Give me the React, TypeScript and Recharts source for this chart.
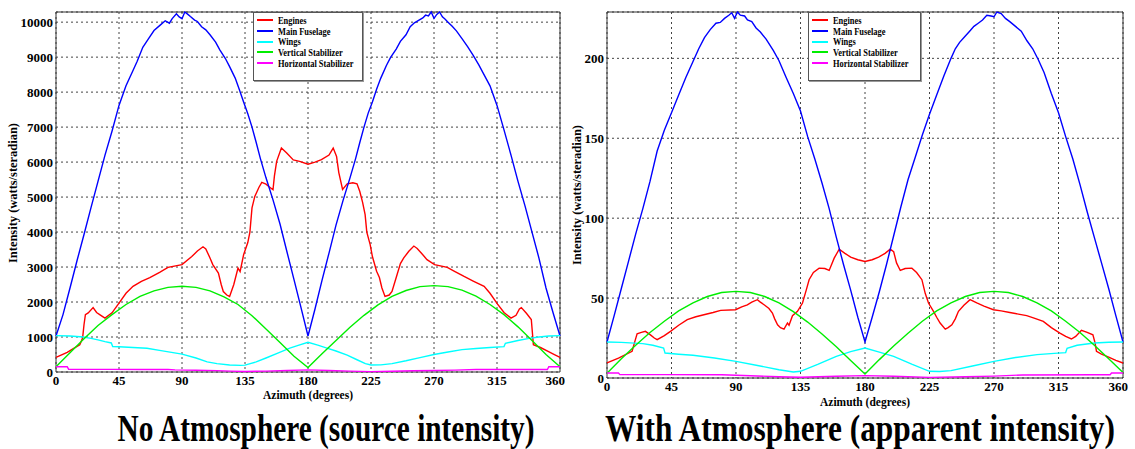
import { CartesianGrid, Legend, Line, LineChart, ReferenceArea, XAxis, YAxis } from "recharts";

// azimuth (degrees), intensity (watts/steradian)
type Pt = [number, number];

const seriesNames = ["Engines", "Main Fuselage", "Wings", "Vertical Stabilizer", "Horizontal Stabilizer"];
const seriesColors = ["#ff0000", "#0000ff", "#00ffff", "#00ee00", "#ff00ff"];

const azimuthTicks = [0, 45, 90, 135, 180, 225, 270, 315, 360];
const sourceTicks = [0, 1000, 2000, 3000, 4000, 5000, 6000, 7000, 8000, 9000, 10000];
const apparentTicks = [0, 50, 100, 150, 200];

// --- source intensity (no atmosphere) ---
const enginesSrc: Pt[] = [
  [0, 420], [8, 560], [17, 780], [19, 970], [20, 1350], [21, 1640], [23, 1690], [26.5, 1840], [29, 1700],
  [32, 1620], [35, 1540], [40, 1690], [45, 1970], [50, 2250], [55, 2450], [61, 2590], [67, 2700], [74, 2850],
  [80, 2990], [90, 3070], [97, 3300], [101, 3460], [105, 3580], [107, 3520], [110, 3260], [112, 3070],
  [116, 2830], [118, 2500], [119.5, 2300], [122, 2200], [124, 2160], [127, 2500], [130, 2970], [131.5, 2870],
  [134, 3350], [137, 3700], [138.5, 4000], [140, 4690], [142, 5020], [145, 5280], [147, 5420], [150, 5370],
  [152, 5300], [155, 5210], [156, 5600], [157.6, 6020], [161, 6400], [164.8, 6260], [169.5, 6060], [174, 6020],
  [180, 5940], [185, 6000], [189.6, 6070], [195, 6200], [198, 6400], [200.4, 6160], [202, 5700], [204.7, 5220],
  [208, 5380], [212, 5410], [215, 5380], [217, 5160], [219, 4850], [220.8, 4500], [222, 4000], [224.4, 3640],
  [226, 3300], [229, 2880], [231, 2700], [232.8, 2400], [235, 2160], [238, 2200], [240, 2300], [243.6, 2780],
  [246, 3100], [248.4, 3260], [252, 3450], [255.6, 3600], [258, 3530], [262, 3350], [265, 3210], [270.4, 3070],
  [279.5, 2990], [285, 2870], [291.5, 2730], [298, 2600], [305.8, 2450], [310, 2250], [315.4, 1940], [320, 1700],
  [325, 1540], [328.6, 1620], [331, 1800], [332.4, 1840], [336, 1680], [339.5, 1500], [341, 780], [346, 700],
  [351.5, 590], [356, 500], [360, 420],
];
const fuselageSrc: Pt[] = [
  [0, 1030], [5, 1640], [10, 2400], [15, 3180], [20, 3930], [25, 4700], [30, 5450], [35, 6200], [40, 6880],
  [45, 7620], [50, 8180], [55, 8620], [58, 8880], [62, 9280], [66, 9520], [70, 9760], [74, 9900], [78, 10040],
  [81, 9970], [83, 10100], [86, 10240], [88, 10150], [90, 10100], [92, 10290], [94, 10230], [96, 10160],
  [99, 10060], [101, 10020], [104, 9870], [107, 9780], [110, 9640], [114, 9430], [117, 9210], [121, 8960],
  [124, 8730], [128, 8400], [131, 8070], [134, 7720], [137, 7380], [140, 7000], [143, 6560], [146, 6100],
  [150, 5550], [155, 4920], [160, 4230], [165, 3430], [170, 2640], [175, 1840], [180, 1030], [185, 1800],
  [190, 2620], [195, 3400], [200, 4200], [205, 4900], [210, 5550], [214, 6100], [217, 6560], [220, 7000],
  [223, 7400], [226, 7720], [229, 8080], [232, 8400], [236, 8760], [239, 8990], [243, 9230], [246, 9450],
  [250, 9640], [253, 9870], [256, 9980], [259, 10050], [262, 10120], [264, 10200], [266, 10180], [268, 10290],
  [270, 10110], [272, 10220], [274, 10290], [276, 10150], [278, 10080], [280, 10000], [283, 9880], [286, 9750],
  [290, 9530], [294, 9300], [298, 9050], [302, 8780], [306, 8480], [310, 8180], [315, 7620], [320, 6920],
  [325, 6200], [330, 5450], [335, 4750], [340, 4000], [345, 3250], [350, 2400], [355, 1700], [360, 1030],
];
const wingsSrc: Pt[] = [
  [0, 1040], [10, 1030], [19.5, 1000], [25, 960], [30, 920], [35, 870], [39.5, 830], [40.5, 730], [45, 720],
  [55, 700], [65, 680], [75, 610], [90, 510], [100, 400], [108, 290], [115, 240], [124, 200], [132, 190],
  [135, 195], [143, 290], [150, 400], [158, 530], [167, 680], [173, 760], [180, 850], [187, 770], [193, 690],
  [200, 600], [208, 480], [215, 350], [221, 240], [225, 200], [232, 205], [240, 240], [250, 320], [260, 410],
  [270, 500], [280, 570], [290, 640], [300, 670], [310, 700], [320, 725], [321, 820], [330, 900], [338, 960],
  [345, 1000], [352, 1030], [360, 1040],
];
const vStabSrc: Pt[] = [
  [0, 150], [10, 550], [20, 950], [30, 1330], [40, 1640], [50, 1930], [60, 2160], [70, 2320], [80, 2420],
  [90, 2450], [100, 2420], [110, 2320], [120, 2150], [130, 1930], [140, 1610], [150, 1230], [160, 840],
  [170, 450], [180, 130], [190, 520], [200, 900], [210, 1280], [220, 1620], [230, 1920], [240, 2160],
  [250, 2330], [260, 2440], [270, 2470], [280, 2440], [290, 2340], [300, 2170], [310, 1930], [320, 1640],
  [330, 1290], [340, 900], [350, 500], [360, 150],
];
const hStabSrc: Pt[] = [
  [0, 150], [8, 150], [9, 80], [20, 75], [40, 75], [60, 72], [80, 70], [85, 60], [100, 50], [115, 40],
  [125, 25], [135, 15], [150, 25], [165, 45], [180, 60], [195, 45], [210, 25], [225, 10], [240, 20], [255, 35],
  [270, 45], [285, 55], [300, 70], [320, 70], [340, 72], [351, 72], [352, 150], [360, 150],
];

// --- apparent intensity (with atmosphere) ---
const enginesApp: Pt[] = [
  [0, 9.4], [8, 12.5], [17.5, 16.7], [19.8, 24], [21, 27.7], [24, 28.5], [26.8, 29.2], [30.3, 27], [33, 25],
  [35, 24], [40, 26.5], [44.3, 29.2], [50, 33], [56, 36.5], [62, 38.3], [67.6, 39.6], [74, 41], [79.3, 42.3],
  [89.7, 42.7], [94, 44.5], [97.9, 45.8], [101, 47.5], [104.9, 49], [107, 47.5], [109.6, 45.8], [113, 43.5],
  [115.4, 40.6], [117, 37], [119, 33.3], [121, 31.5], [123.5, 30.6], [125.9, 34.4], [127, 33], [129.4, 39],
  [132.9, 41.7], [136.4, 46.9], [139, 55], [141, 61.5], [144, 66], [148, 68.75], [152, 68.5], [155, 67.3],
  [158.5, 75], [162, 80.6], [166, 78], [170, 75.6], [175, 74], [180, 72.9], [185, 74], [189.5, 75.6], [194, 78],
  [197.6, 80.6], [200, 79], [202, 72], [204.6, 67.3], [208, 68.5], [212.7, 68.75], [216, 66], [219.7, 61.5],
  [222, 53], [224.3, 46.9], [227.8, 41.7], [230, 38], [232.4, 34.4], [236, 30.6], [238, 31.5], [240.6, 33.3],
  [243, 37], [245.2, 41.7], [249, 45.5], [253.3, 49], [258, 47], [263, 45], [269.6, 42.7], [275, 42], [281, 41],
  [287, 40], [292.8, 39], [298, 37.5], [304.4, 35.4], [310, 31.5], [316, 28.1], [320, 26], [324, 24.4],
  [327, 26], [331, 29.8], [335, 28.5], [339, 27], [340.5, 22], [341.5, 16.7], [345, 15], [350, 13], [355, 11],
  [360, 9.4],
];
const fuselageApp: Pt[] = [
  [0, 22.5], [5, 39], [10, 56], [15, 73], [20, 90], [25, 106], [30, 123], [35, 142], [40, 155], [45, 166],
  [50, 177], [55, 188], [60, 198], [64, 206], [68, 213], [72, 218], [76, 222], [79, 222.5], [82, 225], [85, 227],
  [87, 228.5], [89, 225], [91, 229], [93, 227], [96, 226.5], [98, 224], [101, 223], [104, 219], [107, 216.5],
  [111, 212], [116, 205], [120, 198.5], [125, 188], [130, 178], [135, 167], [140, 151], [145, 137], [150, 122],
  [155, 106], [160, 88], [165, 71], [170, 55], [175, 38], [180, 22.5], [185, 38], [190, 54], [195, 71],
  [200, 89], [205, 107], [210, 124], [215, 138], [220, 152], [225, 165], [230, 177], [235, 189], [240, 200],
  [243, 206], [246, 210], [250, 214], [253, 217], [256, 220], [259, 222], [262, 224], [265, 227], [268, 226.5],
  [270, 226], [272, 229], [275, 228], [278, 225], [281, 223], [285, 220], [289, 217], [293, 211], [297, 206],
  [301, 199], [305, 191], [310, 178], [315, 166], [320, 151], [325, 137], [330, 121], [335, 104], [340, 88],
  [345, 72], [350, 56], [355, 39], [360, 22.5],
];
const wingsApp: Pt[] = [
  [0, 22.5], [10, 22.3], [25, 21.5], [32, 20.5], [39.5, 18.75], [40.5, 15.6], [50, 14.9], [60, 14.2],
  [75, 12.5], [90, 10.4], [105, 7.8], [120, 5.2], [130, 3.75], [135, 4.2], [147, 8.5], [160, 13.5], [170, 16.5],
  [180, 18.75], [190, 16.2], [200, 13.5], [213, 8.5], [225, 4.2], [232, 4.1], [240, 4.6], [255, 7.5],
  [270, 10.4], [285, 12.8], [300, 14.6], [312, 15.4], [320, 15.9], [321, 18.6], [328, 20.5], [340, 21.9],
  [350, 22.4], [360, 22.5],
];
const vStabApp: Pt[] = [
  [0, 3], [10, 12], [20, 20.5], [30, 28.5], [40, 35.5], [50, 42], [60, 47], [70, 51], [80, 53.5], [90, 54.2],
  [100, 53.5], [110, 51], [120, 47], [130, 41.5], [140, 35], [150, 27.5], [160, 19.5], [170, 11], [180, 2.5],
  [190, 11.5], [200, 20], [210, 28], [220, 35.5], [230, 42], [240, 47], [250, 51], [260, 53.5], [270, 54.2],
  [280, 53.5], [290, 51], [300, 47], [310, 42], [320, 35.5], [330, 28.5], [340, 20.5], [350, 12], [360, 3.5],
];
const hStabApp: Pt[] = [
  [0, 3.1], [8, 3.1], [9, 2.1], [40, 2.1], [80, 2], [100, 1.4], [120, 0.8], [135, 0.5], [160, 1.1], [180, 1.5],
  [200, 1.1], [225, 0.4], [250, 0.8], [270, 1.2], [290, 1.9], [340, 2], [351, 2], [352, 3.1], [360, 3.1],
];

const FONT = "'Liberation Serif', 'Times New Roman', serif";
const tickStyle = { fontSize: 13, fontWeight: 700, fill: "#000", fontFamily: FONT };

const toRows = (pts: Pt[]) => pts.map(([az, v]) => ({ az, v }));

function BoxLegend({ payload }: any) {
  // keep plotting order, not alphabetical
  const items = [...(payload || [])].sort(
    (a: any, b: any) => seriesNames.indexOf(a.value) - seriesNames.indexOf(b.value)
  );
  return (
    <div
      style={{
        border: "1px solid #555",
        boxShadow: "1px 1px 0 #999",
        background: "#fff",
        padding: "2px 3px 12px 3px",
        fontFamily: FONT,
        fontWeight: 700,
        fontSize: 10.5,
        color: "#000",
        boxSizing: "border-box",
      }}
    >
      {items.map((p: any) => {
        const color = seriesColors[seriesNames.indexOf(p.value)] ?? p.color;
        return (
          <div key={p.value} style={{ display: "flex", alignItems: "center", height: 10.7, whiteSpace: "nowrap" }}>
            <span style={{ width: 16, height: 2, background: color, marginRight: 5, flex: "none" }} />
            <span style={{ display: "inline-block", transform: "scaleX(0.8)", transformOrigin: "left center" }}>
              {p.value}
            </span>
          </div>
        );
      })}
    </div>
  );
}

type PanelProps = {
  series: Pt[][];
  yTicks: number[];
  yMax: number;
  width: number;
  height: number;
  left: number;
  marginLeft: number;
  yAxisWidth: number;
  legendLeft: number;
  legendWidth: number;
};

function Panel({ series, yTicks, yMax, width, height, left, marginLeft, yAxisWidth, legendLeft, legendWidth }: PanelProps) {
  return (
    <div style={{ position: "absolute", left, top: 0 }}>
      <LineChart width={width} height={height} margin={{ top: 12, right: 5, bottom: 8, left: marginLeft }}>
        <CartesianGrid stroke="#444" strokeDasharray="2 3" />
        <XAxis
          type="number"
          dataKey="az"
          domain={[0, 360]}
          ticks={azimuthTicks}
          height={20}
          tick={tickStyle}
          tickSize={0}
          tickMargin={4}
          axisLine={false}
          tickLine={false}
        />
        <YAxis
          type="number"
          domain={[0, yMax]}
          ticks={yTicks}
          width={yAxisWidth}
          tick={tickStyle}
          tickSize={0}
          tickMargin={3}
          axisLine={false}
          tickLine={false}
        />
        <ReferenceArea x1={0} x2={360} y1={0} y2={yMax} fill="none" stroke="#333" strokeWidth={1} />
        <Legend
          layout="vertical"
          align="center"
          verticalAlign="middle"
          wrapperStyle={{ left: legendLeft, top: 12, width: legendWidth }}
          content={(props: any) => <BoxLegend payload={props.payload} />}
        />
        {series.map((pts, i) => (
          <Line
            key={seriesNames[i]}
            data={toRows(pts)}
            dataKey="v"
            name={seriesNames[i]}
            type="linear"
            stroke={seriesColors[i]}
            strokeWidth={1.4}
            dot={false}
            activeDot={false}
            isAnimationActive={false}
          />
        ))}
      </LineChart>
    </div>
  );
}

// condensed bold serif text, squeezed horizontally to a fixed width
function Squeezed({ x, y, size, width, children }: { x: number; y: number; size: number; width: number; children: string }) {
  const sx = 0.8;
  return (
    <text
      transform={`translate(${x},${y}) scale(${sx},1)`}
      fontSize={size}
      textAnchor="middle"
      textLength={width / sx}
      lengthAdjust="spacingAndGlyphs"
    >
      {children}
    </text>
  );
}

export default function App() {
  return (
    <div style={{ position: "absolute", left: 0, top: 0, width: 1135, height: 449, background: "#fff", overflow: "hidden" }}>
      <Panel
        series={[enginesSrc, fuselageSrc, wingsSrc, vStabSrc, hStabSrc]}
        yTicks={sourceTicks}
        yMax={10290}
        width={565}
        height={400}
        left={0}
        marginLeft={6}
        yAxisWidth={50}
        legendLeft={253}
        legendWidth={110}
      />
      <Panel
        series={[enginesApp, fuselageApp, wingsApp, vStabApp, hStabApp]}
        yTicks={apparentTicks}
        yMax={229}
        width={568}
        height={406}
        left={560}
        marginLeft={2}
        yAxisWidth={45}
        legendLeft={248}
        legendWidth={113}
      />
      <svg width={1135} height={449} style={{ position: "absolute", left: 0, top: 0, pointerEvents: "none" }}>
        <g fontFamily={FONT} fontWeight={700} fill="#000">
          <Squeezed x={308} y={399} size={12} width={90}>Azimuth (degrees)</Squeezed>
          <Squeezed x={865} y={406} size={12} width={90}>Azimuth (degrees)</Squeezed>
          <g transform="translate(17,193) rotate(-90)">
            <Squeezed x={0} y={0} size={12} width={140}>Intensity (watts/steradian)</Squeezed>
          </g>
          <g transform="translate(581,195) rotate(-90)">
            <Squeezed x={0} y={0} size={12} width={140}>Intensity (watts/steradian)</Squeezed>
          </g>
          <Squeezed x={326} y={441} size={37} width={417}>No Atmosphere (source intensity)</Squeezed>
          <Squeezed x={860} y={441} size={37} width={510}>With Atmosphere (apparent intensity)</Squeezed>
        </g>
      </svg>
    </div>
  );
}
